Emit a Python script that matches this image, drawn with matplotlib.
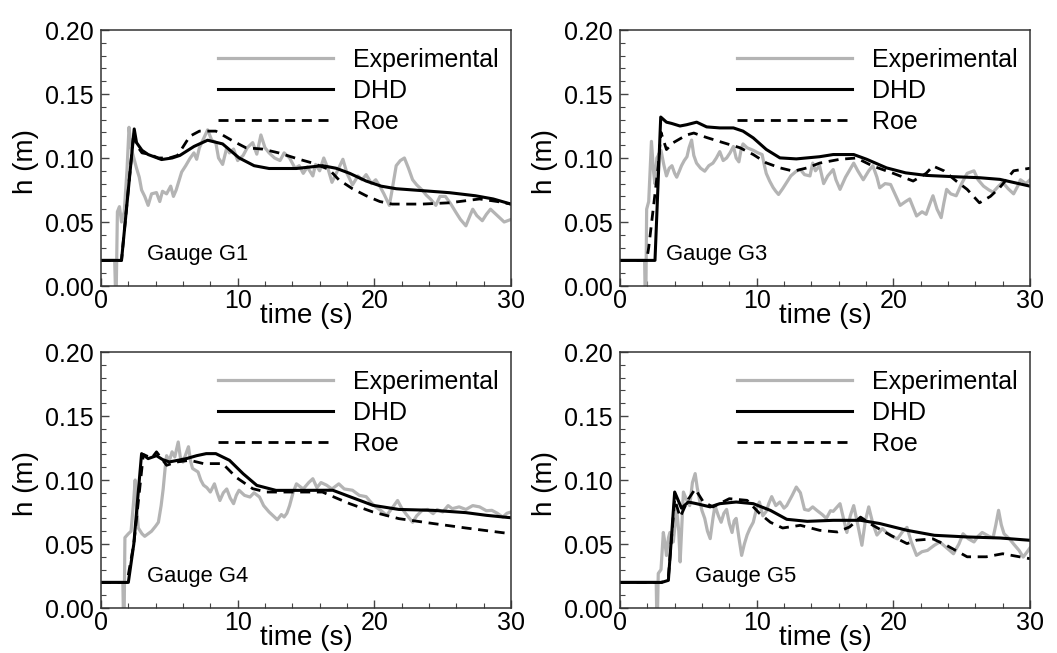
import numpy as np
import matplotlib.pyplot as plt
from matplotlib.ticker import MultipleLocator

plt.rcParams['font.family'] = ['Liberation Sans', 'DejaVu Sans']

# Gauge G1 (time s, depth m)
g1_exp = [(0, 0.02), (1.0, 0.02), (1.05, 0.0), (1.12, 0.0), (1.2, 0.058), (1.35, 0.062), (1.5, 0.05),
          (1.7, 0.058), (1.9, 0.09), (2.05, 0.124), (2.2, 0.108), (2.4, 0.1), (2.6, 0.092), (2.8, 0.085),
          (2.97, 0.075), (3.2, 0.07), (3.45, 0.063), (3.7, 0.072), (4.06, 0.073), (4.3, 0.066), (4.5, 0.074),
          (4.8, 0.072), (5.1, 0.078), (5.3, 0.07), (5.5, 0.075), (5.7, 0.082), (5.9, 0.089), (6.2, 0.094),
          (6.5, 0.0995), (6.8, 0.104), (7.0, 0.099), (7.2, 0.108), (7.5, 0.115), (7.8, 0.122), (8.1, 0.114),
          (8.4, 0.112), (8.6, 0.1), (8.9, 0.095), (9.2, 0.108), (9.4, 0.104), (9.7, 0.107), (10.0, 0.098),
          (10.4, 0.102), (10.7, 0.108), (11.1, 0.112), (11.4, 0.103), (11.7, 0.118), (12.0, 0.108),
          (12.3, 0.104), (12.7, 0.1), (13.1, 0.098), (13.4, 0.104), (13.8, 0.1), (14.2, 0.092), (14.5, 0.094),
          (14.8, 0.088), (15.1, 0.093), (15.5, 0.086), (15.7, 0.095), (16.0, 0.09), (16.3, 0.1), (16.6, 0.092),
          (16.9, 0.081), (17.3, 0.09), (17.7, 0.099), (18.0, 0.088), (18.4, 0.079), (18.8, 0.086),
          (19.1, 0.083), (19.4, 0.087), (19.8, 0.08), (20.1, 0.083), (20.4, 0.078), (20.7, 0.072),
          (21.1, 0.063), (21.3, 0.075), (21.6, 0.094), (21.9, 0.098), (22.2, 0.1), (22.5, 0.092),
          (22.8, 0.083), (23.1, 0.079), (23.5, 0.075), (23.8, 0.071), (24.1, 0.068), (24.5, 0.063),
          (24.8, 0.07), (25.2, 0.07), (25.6, 0.064), (26.0, 0.057), (26.3, 0.052), (26.7, 0.047),
          (27.0, 0.055), (27.2, 0.06), (27.5, 0.055), (27.9, 0.051), (28.2, 0.056), (28.5, 0.06),
          (28.8, 0.057), (29.1, 0.054), (29.5, 0.05), (30, 0.052)]
g1_dhd = [(0, 0.02), (1.5, 0.02), (2.43, 0.1227), (2.6, 0.112), (3.0, 0.106), (3.45, 0.1027), (4.43, 0.0988),
          (5.2, 0.1), (5.77, 0.102), (6.8, 0.109), (7.8, 0.1139), (8.9, 0.111), (10.1, 0.1001), (11.2, 0.094),
          (12.3, 0.0918), (14.3, 0.0918), (16.2, 0.094), (17.2, 0.092), (18.2, 0.088), (19.4, 0.082),
          (20.5, 0.078), (21.6, 0.076), (23.5, 0.0745), (25.5, 0.0729), (27.4, 0.0705), (28.7, 0.068),
          (30, 0.064)]
g1_roe = [(0, 0.02), (1.5, 0.02), (2.4, 0.12), (2.6, 0.11), (3.0, 0.104), (3.5, 0.103), (4.2, 0.1),
          (5.0, 0.1), (5.6, 0.102), (6.5, 0.117), (7.2, 0.121), (8.4, 0.121), (9.7, 0.113), (10.6, 0.108),
          (11.8, 0.107), (13.0, 0.104), (14.5, 0.099), (15.5, 0.096), (16.7, 0.091), (17.4, 0.083),
          (18.4, 0.076), (19.4, 0.0705), (20.4, 0.066), (21.3, 0.064), (23.5, 0.064), (25.5, 0.065),
          (27.7, 0.068), (29.0, 0.066), (30, 0.064)]

# Gauge G3
g3_exp = [(0, 0.02), (1.8, 0.02), (1.83, 0.0), (1.9, 0.0), (1.95, 0.06), (2.1, 0.066), (2.3, 0.113),
          (2.45, 0.09), (2.55, 0.08), (2.7, 0.1), (3.0, 0.106), (3.2, 0.095), (3.4, 0.086), (3.6, 0.092),
          (3.8, 0.094), (4.0, 0.088), (4.15, 0.085), (4.35, 0.09), (4.5, 0.094), (4.7, 0.098), (4.9, 0.101),
          (5.05, 0.108), (5.24, 0.114), (5.4, 0.102), (5.6, 0.096), (5.9, 0.092), (6.2, 0.0897), (6.5, 0.094),
          (6.8, 0.096), (7.05, 0.1), (7.3, 0.105), (7.55, 0.098), (7.8, 0.1), (8.05, 0.104), (8.3, 0.109),
          (8.5, 0.1), (8.7, 0.097), (8.85, 0.106), (9.0, 0.111), (9.3, 0.108), (9.75, 0.106), (10.1, 0.104),
          (10.4, 0.1027), (10.55, 0.095), (10.7, 0.088), (10.95, 0.082), (11.2, 0.077), (11.4, 0.074),
          (11.6, 0.0715), (11.9, 0.076), (12.2, 0.081), (12.5, 0.086), (12.9, 0.0897), (13.2, 0.091),
          (13.5, 0.087), (13.9, 0.086), (14.1, 0.096), (14.3, 0.09), (14.6, 0.094), (14.9, 0.08),
          (15.2, 0.086), (15.6, 0.091), (15.8, 0.083), (16.1, 0.0755), (16.5, 0.085), (17.1, 0.096),
          (17.4, 0.09), (17.8, 0.083), (18.2, 0.09), (18.5, 0.094), (18.8, 0.085), (19.0, 0.0767),
          (19.4, 0.08), (19.8, 0.0793), (20.2, 0.07), (20.5, 0.063), (20.9, 0.066), (21.2, 0.068),
          (21.5, 0.06), (21.7, 0.0547), (22.1, 0.058), (22.4, 0.056), (22.7, 0.065), (22.9, 0.0705),
          (23.2, 0.06), (23.5, 0.0534), (23.7, 0.065), (23.9, 0.0755), (24.2, 0.072), (24.6, 0.0705),
          (25.0, 0.08), (25.4, 0.088), (25.9, 0.09), (26.2, 0.083), (26.6, 0.078), (27.0, 0.075),
          (27.3, 0.0733), (27.7, 0.078), (28.0, 0.081), (28.4, 0.076), (28.8, 0.072), (29.1, 0.078),
          (29.3, 0.083), (29.7, 0.08), (30, 0.083)]
g3_dhd = [(0, 0.02), (2.56, 0.02), (2.98, 0.132), (3.4, 0.128), (3.78, 0.127), (4.39, 0.125), (4.88, 0.126),
          (5.61, 0.128), (6.34, 0.1243), (7.3, 0.1235), (8.3, 0.1235), (9.0, 0.121), (9.75, 0.1157),
          (10.7, 0.1067), (11.7, 0.1001), (12.9, 0.0993), (14.6, 0.101), (15.6, 0.1027), (17.1, 0.1027),
          (18.05, 0.099), (19.5, 0.0923), (20.9, 0.0884), (22.4, 0.0864), (24.4, 0.0854), (26.3, 0.0846),
          (27.8, 0.0833), (30, 0.078)]
g3_roe = [(0, 0.02), (1.95, 0.02), (2.1, 0.03), (2.8, 0.094), (3.0, 0.12), (3.4, 0.1066), (3.9, 0.112),
          (4.88, 0.118), (5.4, 0.1195), (6.34, 0.116), (7.55, 0.112), (8.78, 0.108), (9.75, 0.1027),
          (10.7, 0.0962), (11.7, 0.0923), (12.7, 0.0897), (13.7, 0.0923), (14.6, 0.096), (16.1, 0.099),
          (17.3, 0.1), (18.5, 0.0937), (20.0, 0.088), (21.45, 0.082), (22.4, 0.088), (22.9, 0.0937),
          (23.7, 0.09), (24.6, 0.082), (25.4, 0.0755), (26.3, 0.065), (27.1, 0.07), (27.8, 0.077),
          (28.8, 0.09), (30, 0.092)]

# Gauge G4
g4_exp = [(0, 0.02), (1.6, 0.02), (1.63, 0.0), (1.7, 0.0), (1.75, 0.055), (2.0, 0.058), (2.2, 0.06),
          (2.4, 0.085), (2.5, 0.1), (2.6, 0.08), (2.73, 0.0625), (3.0, 0.058), (3.2, 0.056), (3.45, 0.058),
          (3.7, 0.06), (4.0, 0.064), (4.2, 0.067), (4.4, 0.08), (4.55, 0.093), (4.7, 0.11), (4.8, 0.119),
          (5.0, 0.115), (5.2, 0.122), (5.4, 0.118), (5.65, 0.1297), (5.8, 0.118), (6.0, 0.114), (6.2, 0.12),
          (6.4, 0.126), (6.55, 0.115), (6.7, 0.109), (7.1, 0.1063), (7.3, 0.1), (7.5, 0.096), (7.75, 0.094),
          (8.0, 0.0906), (8.3, 0.097), (8.5, 0.09), (8.7, 0.084), (8.95, 0.09), (9.2, 0.093), (9.45, 0.086),
          (9.7, 0.0815), (9.9, 0.088), (10.1, 0.092), (10.5, 0.088), (10.9, 0.0867), (11.2, 0.09),
          (11.6, 0.0867), (11.9, 0.08), (12.3, 0.075), (12.6, 0.072), (12.9, 0.069), (13.2, 0.073),
          (13.4, 0.0711), (13.6, 0.074), (13.8, 0.08), (14.05, 0.09), (14.3, 0.097), (14.8, 0.093),
          (15.2, 0.098), (15.5, 0.101), (15.8, 0.094), (16.1, 0.098), (16.5, 0.096), (16.9, 0.093),
          (17.4, 0.097), (17.8, 0.093), (18.4, 0.092), (18.9, 0.088), (19.4, 0.087), (19.8, 0.082),
          (20.1, 0.079), (20.5, 0.076), (20.9, 0.0724), (21.3, 0.078), (21.7, 0.084), (22.0, 0.078),
          (22.3, 0.0737), (22.8, 0.067), (23.1, 0.072), (23.5, 0.0763), (23.9, 0.077), (24.3, 0.0737),
          (24.6, 0.077), (25.0, 0.075), (25.4, 0.08), (25.7, 0.0776), (26.2, 0.079), (26.7, 0.077),
          (27.2, 0.08), (27.7, 0.079), (28.2, 0.076), (28.6, 0.0763), (29.0, 0.074), (29.4, 0.071),
          (29.7, 0.074), (30, 0.075)]
g4_dhd = [(0, 0.02), (2.0, 0.02), (2.4, 0.05), (2.97, 0.1206), (3.45, 0.1167), (4.06, 0.119), (4.5, 0.116),
          (5.0, 0.1141), (6.25, 0.1167), (7.0, 0.119), (7.7, 0.1206), (8.4, 0.1206), (9.4, 0.1154),
          (10.4, 0.1049), (11.4, 0.0958), (12.8, 0.0919), (14.8, 0.0919), (16.96, 0.092), (18.2, 0.087),
          (19.9, 0.0802), (21.8, 0.077), (24.3, 0.0763), (26.7, 0.0745), (28.2, 0.0724), (30, 0.0705)]
g4_roe = [(0, 0.02), (1.9, 0.02), (2.4, 0.05), (3.1, 0.12), (3.7, 0.117), (4.06, 0.122), (4.8, 0.1115),
          (5.5, 0.114), (6.5, 0.1154), (7.5, 0.1128), (8.9, 0.1128), (9.9, 0.102), (11.1, 0.0932),
          (12.1, 0.0906), (13.8, 0.0906), (16.2, 0.0906), (17.2, 0.086), (18.2, 0.0815), (19.9, 0.075),
          (21.8, 0.0698), (24.3, 0.066), (26.7, 0.0625), (30, 0.058)]

# Gauge G5
g5_exp = [(0, 0.02), (2.65, 0.02), (2.68, 0.0), (2.75, 0.0), (2.8, 0.027), (3.0, 0.03), (3.17, 0.059),
          (3.3, 0.05), (3.4, 0.041), (3.55, 0.055), (3.65, 0.059), (3.9, 0.0516), (4.15, 0.077), (4.3, 0.06),
          (4.4, 0.036), (4.55, 0.07), (4.64, 0.0906), (4.85, 0.085), (5.1, 0.08), (5.3, 0.098), (5.5, 0.105),
          (5.65, 0.094), (5.85, 0.0828), (6.0, 0.076), (6.2, 0.07), (6.4, 0.06), (6.6, 0.0542), (6.8, 0.07),
          (6.95, 0.08), (7.2, 0.072), (7.4, 0.067), (7.6, 0.074), (7.8, 0.077), (8.0, 0.066), (8.2, 0.059),
          (8.35, 0.068), (8.5, 0.07), (8.7, 0.055), (8.9, 0.0411), (9.1, 0.05), (9.3, 0.057), (9.5, 0.062),
          (9.75, 0.067), (10.0, 0.078), (10.2, 0.0828), (10.45, 0.072), (10.7, 0.0755), (10.9, 0.082),
          (11.1, 0.087), (11.4, 0.08), (11.7, 0.0828), (12.0, 0.078), (12.2, 0.08), (12.6, 0.088),
          (12.9, 0.0945), (13.2, 0.09), (13.5, 0.077), (13.8, 0.0763), (14.1, 0.079), (14.4, 0.0763),
          (14.8, 0.073), (15.1, 0.07), (15.4, 0.076), (15.6, 0.0755), (16.1, 0.0815), (16.35, 0.07),
          (16.6, 0.059), (16.85, 0.072), (17.1, 0.08), (17.4, 0.065), (17.7, 0.049), (17.95, 0.068),
          (18.2, 0.079), (18.5, 0.066), (18.8, 0.057), (19.2, 0.062), (19.5, 0.059), (19.9, 0.056),
          (20.3, 0.054), (20.7, 0.06), (21.0, 0.063), (21.3, 0.052), (21.7, 0.0411), (22.1, 0.044),
          (22.5, 0.045), (23.0, 0.049), (23.4, 0.0516), (23.9, 0.047), (24.4, 0.0424), (24.8, 0.05),
          (25.1, 0.058), (25.5, 0.054), (25.9, 0.0516), (26.2, 0.056), (26.5, 0.059), (27.0, 0.056),
          (27.3, 0.055), (27.5, 0.065), (27.7, 0.0763), (27.9, 0.065), (28.1, 0.058), (28.5, 0.054),
          (28.8, 0.05), (29.2, 0.045), (29.5, 0.0398), (29.8, 0.044), (30, 0.047)]
g5_dhd = [(0, 0.02), (3.05, 0.02), (3.54, 0.0216), (4.0, 0.0906), (4.5, 0.078), (5.0, 0.0828), (5.6, 0.0815),
          (6.6, 0.079), (7.3, 0.0815), (8.5, 0.0828), (9.75, 0.0815), (11.0, 0.0763), (12.2, 0.0693),
          (13.7, 0.0677), (15.6, 0.0685), (17.6, 0.0685), (19.0, 0.066), (21.0, 0.0607), (23.0, 0.0568),
          (25.4, 0.0555), (27.8, 0.0547), (30, 0.0529)]
g5_roe = [(0, 0.02), (3.05, 0.02), (3.54, 0.024), (4.0, 0.085), (4.4, 0.071), (5.0, 0.085), (5.5, 0.093),
          (6.1, 0.0828), (6.8, 0.079), (8.0, 0.0854), (9.3, 0.0841), (10.2, 0.074), (11.0, 0.067),
          (11.9, 0.0625), (13.2, 0.0646), (14.6, 0.0607), (15.9, 0.0594), (16.8, 0.0633), (17.6, 0.071),
          (18.5, 0.0646), (19.8, 0.0568), (21.0, 0.0503), (21.7, 0.053), (22.9, 0.054), (23.9, 0.0489),
          (25.4, 0.04), (26.8, 0.04), (28.0, 0.0424), (30, 0.0385)]

gauge_names = ['Gauge G1', 'Gauge G3', 'Gauge G4', 'Gauge G5']
gauge_text_x = [3.4, 3.4, 3.4, 5.5]
series = [(g1_exp, g1_dhd, g1_roe), (g3_exp, g3_dhd, g3_roe),
          (g4_exp, g4_dhd, g4_roe), (g5_exp, g5_dhd, g5_roe)]

fig = plt.figure(figsize=(10.57, 6.53), dpi=100)
W, H = 1057, 653
# axes boxes in pixels: left, top, right, bottom
boxes = [(101, 30, 511, 286), (620, 30, 1030, 286),
         (101, 352, 511, 608), (620, 352, 1030, 608)]

for k, (exp, dhd, roe) in enumerate(series):
    l, t, r, b = boxes[k]
    ax = fig.add_axes([l / W, 1 - b / H, (r - l) / W, (b - t) / H])
    e = np.array(exp)
    d = np.array(dhd)
    ro = np.array(roe)
    ax.plot(e[:, 0], e[:, 1], color='#b4b4b4', lw=2.3, label='Experimental')
    ax.plot(d[:, 0], d[:, 1], color='black', lw=2.2, label='DHD')
    ax.plot(ro[:, 0], ro[:, 1], color='black', lw=2.0, ls=(0, (3.6, 2.4)), label='Roe')

    ax.set_xlim(0, 30)
    ax.set_ylim(0, 0.2)
    ax.xaxis.set_major_locator(MultipleLocator(10))
    ax.xaxis.set_minor_locator(MultipleLocator(2))
    ax.yaxis.set_major_locator(MultipleLocator(0.05))
    ax.yaxis.set_minor_locator(MultipleLocator(0.01))
    ax.yaxis.set_major_formatter(plt.FormatStrFormatter('%.2f'))
    ax.tick_params(which='both', direction='in', top=False, right=False, color='#444444')
    ax.tick_params(which='major', length=6, width=1.0, labelsize=18)
    ax.tick_params(axis='x', which='major', pad=2)
    ax.tick_params(axis='y', which='major', pad=5)
    ax.tick_params(which='minor', length=3.5, width=0.8)
    for sp in ax.spines.values():
        sp.set_color('#333333')
        sp.set_linewidth(1.1)

    ax.set_xlabel('time (s)', fontsize=20, va='baseline')
    ax.xaxis.set_label_coords(0.5, -0.145)
    ax.set_ylabel('h (m)', fontsize=20, va='center')
    ax.yaxis.set_label_coords(-0.183, 0.485)

    ax.text(gauge_text_x[k], 0.02, gauge_names[k], fontsize=15.8, va='baseline')
    ax.legend(loc='upper left', bbox_to_anchor=(0.285, 0.93), frameon=False, fontsize=18,
              handlelength=4.6, handletextpad=0.8, labelspacing=0.28, borderpad=0, borderaxespad=0)

fig.savefig('out.png', dpi=100)
